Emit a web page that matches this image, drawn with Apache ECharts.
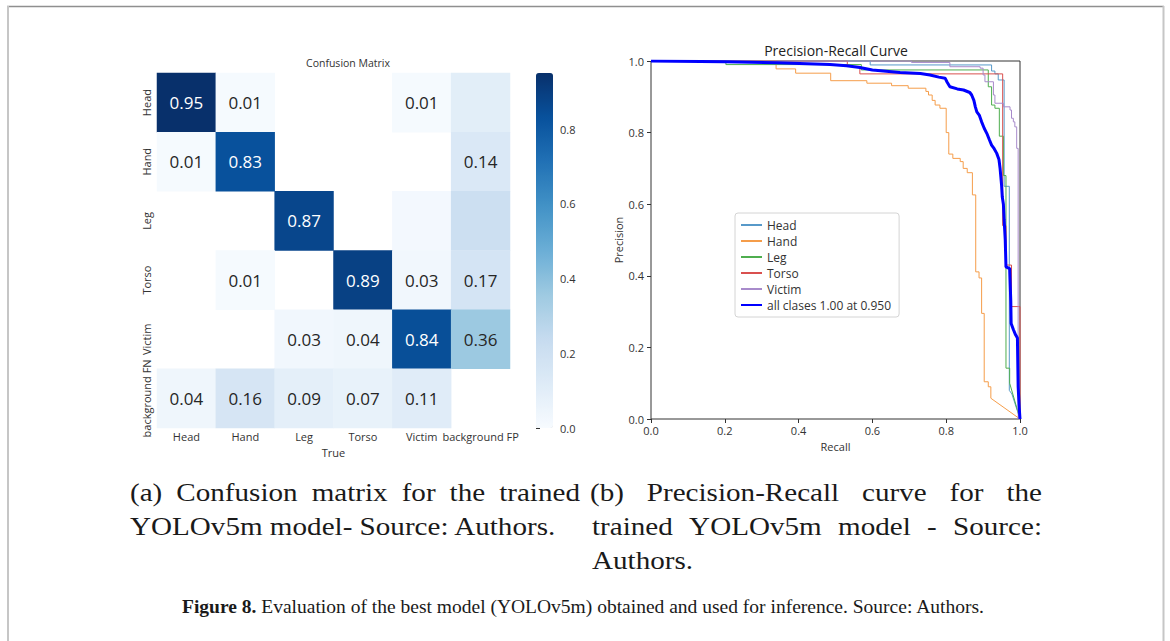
<!DOCTYPE html>
<html><head><meta charset="utf-8">
<script src="https://cdn.jsdelivr.net/npm/echarts@6/dist/echarts.min.js"></script>
<style>html,body{margin:0;padding:0;background:#fff;} #c{width:1170px;height:641px;}</style>
</head><body><div id="c"></div>
<script>
// ---------- DATA ----------
const cmTrue = ['Head','Hand','Leg','Torso','Victim','background FP'];
const cmPred = ['Head','Hand','Leg','Torso','Victim','background FN'];
const cmValues = [
  [0.95, 0.01, null, null, 0.01, 0.10],
  [0.01, 0.83, null, null, null, 0.14],
  [null, null, 0.87, null, 0.02, 0.21],
  [null, 0.01, null, 0.89, 0.03, 0.17],
  [null, null, 0.03, 0.04, 0.84, 0.36],
  [0.04, 0.16, 0.09, 0.07, 0.11, null]
];
const cmLabels = [
  ['0.95','0.01','','','0.01',''],
  ['0.01','0.83','','','','0.14'],
  ['','','0.87','','',''],
  ['','0.01','','0.89','0.03','0.17'],
  ['','','0.03','0.04','0.84','0.36'],
  ['0.04','0.16','0.09','0.07','0.11','']
];
const cbTicks = [0, 0.2, 0.4, 0.6, 0.8];
const cbMax = 0.95;

const prNames = ['Head','Hand','Leg','Torso','Victim','all clases 1.00 at 0.950'];
const prHead = [[0,1],[0.594,1],[0.594,0.989],[0.923,0.989],[0.923,0.972],[0.932,0.972],[0.932,0.964],[0.941,0.964],[0.941,0.947],[0.957,0.947],[0.957,0.65],[0.971,0.65],[0.971,0.08],[0.978,0.07],[1.0,0.0]];
const prHand = [[0,1],[0.339,1],[0.339,0.978],[0.392,0.978],[0.392,0.966],[0.487,0.966],[0.487,0.945],[0.585,0.945],[0.585,0.938],[0.652,0.938],[0.652,0.931],[0.697,0.931],[0.697,0.924],[0.745,0.924],[0.745,0.915],[0.752,0.915],[0.752,0.905],[0.762,0.905],[0.762,0.89],[0.77,0.89],[0.77,0.877],[0.783,0.877],[0.783,0.868],[0.8,0.868],[0.8,0.80],[0.807,0.80],[0.807,0.74],[0.818,0.74],[0.818,0.728],[0.838,0.728],[0.838,0.719],[0.846,0.719],[0.846,0.70],[0.857,0.70],[0.857,0.688],[0.871,0.688],[0.871,0.626],[0.880,0.626],[0.880,0.411],[0.889,0.411],[0.889,0.394],[0.896,0.394],[0.896,0.295],[0.903,0.295],[0.903,0.104],[0.914,0.104],[0.914,0.09],[0.921,0.09],[0.921,0.058],[1.0,0.0]];
const prLeg = [[0,1],[0.203,1],[0.203,0.99],[0.57,0.99],[0.57,0.975],[0.914,0.975],[0.914,0.928],[0.923,0.928],[0.923,0.877],[0.932,0.877],[0.932,0.868],[0.944,0.868],[0.944,0.79],[0.955,0.79],[0.955,0.68],[0.962,0.68],[0.962,0.142],[0.972,0.142],[0.972,0.10],[1.0,0.0]];
const prTorso = [[0,1],[0.532,1],[0.532,0.985],[0.566,0.985],[0.566,0.964],[0.953,0.964],[0.953,0.54],[0.962,0.54],[0.962,0.43],[0.977,0.43],[0.977,0.314],[1.0,0.314],[1.0,0.0]];
const prVictim = [[0,1],[0.706,1],[0.706,0.996],[0.81,0.996],[0.81,0.984],[0.892,0.984],[0.892,0.98],[0.9,0.98],[0.9,0.961],[0.905,0.961],[0.905,0.942],[0.928,0.942],[0.928,0.905],[0.932,0.905],[0.932,0.882],[0.955,0.882],[0.955,0.872],[0.973,0.872],[0.973,0.863],[0.977,0.863],[0.977,0.84],[0.982,0.84],[0.982,0.83],[0.986,0.83],[0.986,0.816],[0.991,0.816],[0.991,0.756],[0.995,0.756],[0.995,0.0],[1.0,0.0]];
const prAll = [[0,1],[0.2,0.998],[0.34,0.995],[0.485,0.99],[0.53,0.987],[0.566,0.982],[0.6,0.975],[0.675,0.968],[0.73,0.965],[0.756,0.961],[0.78,0.955],[0.797,0.952],[0.803,0.94],[0.81,0.928],[0.83,0.922],[0.847,0.919],[0.864,0.912],[0.869,0.905],[0.875,0.89],[0.879,0.872],[0.883,0.858],[0.89,0.848],[0.896,0.83],[0.903,0.812],[0.91,0.798],[0.917,0.78],[0.923,0.765],[0.93,0.755],[0.937,0.742],[0.943,0.725],[0.946,0.70],[0.95,0.654],[0.952,0.62],[0.955,0.6],[0.957,0.556],[0.96,0.5],[0.962,0.425],[0.972,0.42],[0.975,0.33],[0.976,0.267],[0.982,0.25],[0.988,0.235],[0.993,0.226],[0.995,0.09],[0.998,0.03],[1.0,0.0]];

const cmTitle = 'Confusion Matrix';
const prTitle = 'Precision-Recall Curve';
const capA = ['(a) Confusion matrix for the trained', 'YOLOv5m model- Source: Authors.'];
const capB = ['(b) Precision-Recall curve for the', 'trained YOLOv5m model - Source:', 'Authors.'];
const figBold = 'Figure 8.';
const figRest = ' Evaluation of the best model (YOLOv5m) obtained and used for inference. Source: Authors.';

// ---------- STYLE ----------
const SANS = '"Open Sans", "Noto Sans", sans-serif';
const SERIF = '"Liberation Serif", serif';
const blues = ['#f7fbff','#deebf7','#c6dbef','#9ecae1','#6baed6','#4292c6','#2171b5','#08519c','#08306b'];
const prColors = ['#5799c9','#f59d4a','#4fae4f','#d9504f','#a88bcb','#0000ff'];

// ---------- BUILD ----------
const hmData = [];
cmValues.forEach((row, r) => row.forEach((v, c) => {
  if (v !== null) hmData.push({value: [c, r, v], label: {color: v > 0.5 ? '#ffffff' : '#262626'}});
}));

const cv = document.createElement('canvas').getContext('2d');
function mw(t, font) { cv.font = font; return cv.measureText(t).width; }

const g = [];
g.push({type:'line', shape:{x1:7, y1:6.5, x2:1164, y2:6.5}, style:{stroke:'#8f8f8f', lineWidth:1.5}, silent:true});
g.push({type:'line', shape:{x1:8, y1:6, x2:8, y2:641}, style:{stroke:'#c6c6c6', lineWidth:2}, silent:true});
g.push({type:'line', shape:{x1:1163.5, y1:6, x2:1163.5, y2:641}, style:{stroke:'#c6c6c6', lineWidth:2}, silent:true});
g.push({type:'text', x:348, y:63, style:{text:cmTitle, font:'10.5px ' + SANS, fill:'#333', align:'center', verticalAlign:'middle'}});
g.push({type:'text', x:836, y:50, style:{text:prTitle, font:'14px ' + SANS, fill:'#222', align:'center', verticalAlign:'middle'}});

const capFont = '26px ' + SERIF;
const capScale = 427 / mw(capA[1], capFont);
function wordsLine(text, x0, x1, y, justify) {
  if (!justify) {
    g.push({type:'text', x:x0, y:y, scaleX:capScale, style:{text:text, font:capFont, fill:'#1a1a1a', align:'left', verticalAlign:'middle'}});
    return;
  }
  const words = text.split(' ');
  const ws = words.map(w => mw(w, capFont) * capScale);
  const total = ws.reduce((a, b) => a + b, 0);
  const gap = (x1 - x0 - total) / (words.length - 1);
  let x = x0;
  words.forEach((w, i) => {
    g.push({type:'text', x:x, y:y, scaleX:capScale, style:{text:w, font:capFont, fill:'#1a1a1a', align:'left', verticalAlign:'middle'}});
    x += ws[i] + gap;
  });
}
wordsLine(capA[0], 130, 580, 492, true);
wordsLine(capA[1], 130, 557, 526, false);
wordsLine(capB[0], 590, 1042, 492, true);
wordsLine(capB[1], 592, 1042, 526, true);
wordsLine(capB[2], 592, 690, 560, false);

const figFontR = '19px ' + SERIF;
const figFontB = 'bold 19px ' + SERIF;
const figW = mw(figBold, figFontB) + mw(figRest, figFontR);
const figScale = 803 / figW;
g.push({type:'text', x:182, y:607, scaleX:figScale, style:{
  text:'{b|' + figBold + '}{r|' + figRest + '}', align:'left', verticalAlign:'middle',
  rich:{ b:{font:figFontB, fill:'#1a1a1a'}, r:{font:figFontR, fill:'#1a1a1a'} }
}});

const prSeriesData = [prHead, prHand, prLeg, prTorso, prVictim, prAll];
const prSeries = prSeriesData.map((d, i) => ({
  name: prNames[i], type:'line', xAxisIndex:2, yAxisIndex:2, data:d,
  symbol:'none', showSymbol:false, silent:true, z: i === 5 ? 5 : 3,
  lineStyle:{width: i === 5 ? 3 : 1, color: prColors[i]}, itemStyle:{color: prColors[i]}
}));

const option = {
  animation: false,
  backgroundColor: '#ffffff',
  grid: [
    {left:157, top:73, width:353, height:355},
    {left:536, top:73, width:17, height:355},
    {left:651, top:61, width:369, height:358, show:true, borderColor:'#333', borderWidth:1, backgroundColor:'transparent'}
  ],
  xAxis: [
    {type:'category', gridIndex:0, data:cmTrue, name:'True', nameLocation:'middle', nameGap:15,
     nameTextStyle:{fontFamily:SANS, fontSize:11, color:'#333'},
     axisLine:{show:false}, axisTick:{show:false}, splitLine:{show:false},
     axisLabel:{interval:0, fontFamily:SANS, fontSize:11, color:'#333', margin:3}},
    {type:'value', gridIndex:1, show:false},
    {type:'value', gridIndex:2, min:0, max:1, interval:0.2, name:'Recall', nameLocation:'middle', nameGap:16,
     nameTextStyle:{fontFamily:SANS, fontSize:11, color:'#333'},
     axisLine:{show:false}, splitLine:{show:false},
     axisTick:{show:true, length:4, lineStyle:{color:'#333'}},
     axisLabel:{fontFamily:SANS, fontSize:11, color:'#333', margin:6, formatter:v => v.toFixed(1)}}
  ],
  yAxis: [
    {type:'category', gridIndex:0, data:cmPred, inverse:true,
     axisLine:{show:false}, axisTick:{show:false}, splitLine:{show:false},
     axisLabel:{interval:0, rotate:90, fontFamily:SANS, fontSize:11, color:'#333', margin:5}},
    {type:'value', gridIndex:1, min:0, max:cbMax, position:'right',
     axisLine:{show:false}, splitLine:{show:false},
     axisTick:{show:true, length:4, customValues:cbTicks, lineStyle:{color:'#333'}},
     axisLabel:{customValues:cbTicks, fontFamily:SANS, fontSize:11, color:'#333', margin:7, formatter:v => v.toFixed(1)}},
    {type:'value', gridIndex:2, min:0, max:1, interval:0.2, name:'Precision', nameLocation:'middle', nameGap:27,
     nameTextStyle:{fontFamily:SANS, fontSize:11, color:'#333'},
     axisLine:{show:false}, splitLine:{show:false},
     axisTick:{show:true, length:4, lineStyle:{color:'#333'}},
     axisLabel:{fontFamily:SANS, fontSize:11, color:'#333', margin:7, formatter:v => v.toFixed(1)}}
  ],
  visualMap: {
    type:'continuous', seriesIndex:0, min:0, max:cbMax, calculable:false, hoverLink:false,
    left:536, top:73, itemWidth:17, itemHeight:355, padding:0, text:null, showLabel:false,
    inRange:{color: blues}
  },
  legend: {
    data: prNames, orient:'vertical', left:735, top:213, itemWidth:21, itemHeight:10, itemGap:4,
    padding:[6,8,6,5], borderColor:'#d4d4d4', borderWidth:1, borderRadius:3, backgroundColor:'rgba(255,255,255,0.85)',
    itemStyle:{opacity:0},
    textStyle:{fontFamily:SANS, fontSize:12, color:'#333', lineHeight:12}, selectedMode:false
  },
  graphic: g,
  series: [
    {type:'heatmap', xAxisIndex:0, yAxisIndex:0, data:hmData, silent:true,
     label:{show:true, fontFamily:SANS, fontSize:17, formatter:p => cmLabels[p.value[1]][p.value[0]]},
     itemStyle:{borderWidth:0}, emphasis:{disabled:true}}
  ].concat(prSeries)
};

const chart = echarts.init(document.getElementById('c'), null, {renderer:'svg'});
chart.setOption(option);
</script></body></html>
